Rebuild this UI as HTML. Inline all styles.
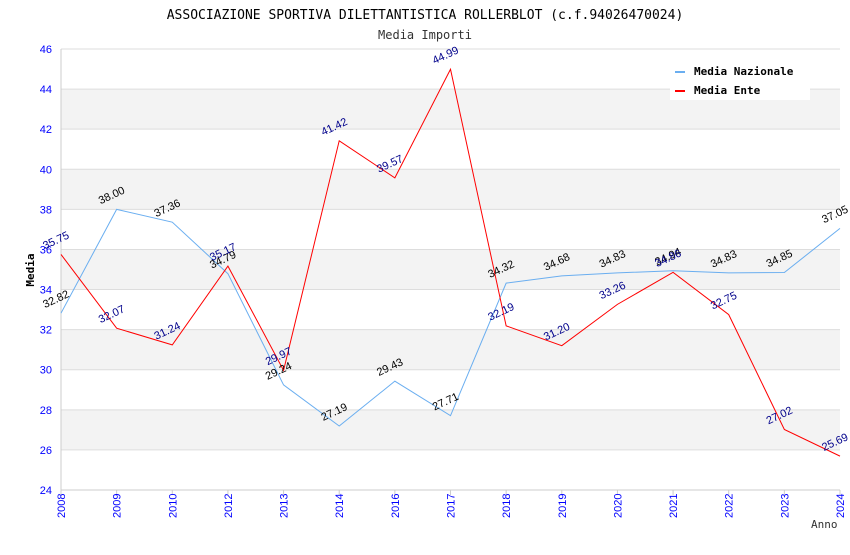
<!DOCTYPE html>
<html><head><meta charset="utf-8"><style>
body{margin:0;background:#fff;}
svg text{font-family:"DejaVu Sans Mono","Liberation Mono",monospace;}
svg text.s{font-family:"Liberation Sans",sans-serif;}
</style></head><body>
<svg id="c" width="850" height="550">
<text x="425" y="19" text-anchor="middle" font-size="13" fill="#000">ASSOCIAZIONE SPORTIVA DILETTANTISTICA ROLLERBLOT (c.f.94026470024)</text>
<text x="425" y="39" text-anchor="middle" font-size="12" fill="#333">Media Importi</text>
<g id="bands"></g><g id="grid"></g><g id="axes"></g><g id="series"></g><g id="labels"></g>
<text x="34" y="270" transform="rotate(-90 34 270)" text-anchor="middle" font-size="11" font-weight="bold">Media</text>
<text x="811" y="528" font-size="11" fill="#333">Anno</text>
<g>
<rect x="670" y="60" width="140" height="40" fill="#fff"/>
<rect x="675" y="71" width="10" height="2" fill="#6aaef0"/>
<text x="694" y="75" font-size="11" font-weight="bold">Media Nazionale</text>
<rect x="675" y="90" width="10" height="2" fill="#f00"/>
<text x="694" y="94" font-size="11" font-weight="bold">Media Ente</text>
</g>
</svg>
<script>
const years=["2008","2009","2010","2012","2013","2014","2016","2017","2018","2019","2020","2021","2022","2023","2024"];
const nazionale=[32.82,38.00,37.36,34.79,29.24,27.19,29.43,27.71,34.32,34.68,34.83,34.94,34.83,34.85,37.05];
const ente=[35.75,32.07,31.24,35.17,29.97,41.42,39.57,44.99,32.19,31.20,33.26,34.86,32.75,27.02,25.69];
const yTicks=[24,26,28,30,32,34,36,38,40,42,44,46];
const NS="http://www.w3.org/2000/svg";
const L=61,R=840,T=49,B=490,yMin=24,yMax=46;
const xS=i=>L+i*(R-L)/(years.length-1);
const yS=v=>B-(v-yMin)*(B-T)/(yMax-yMin);
function mk(p,t,a){const e=document.createElementNS(NS,t);for(const k in a)e.setAttribute(k,a[k]);document.getElementById(p).appendChild(e);return e;}
for(let v=26;v<46;v+=4){const r=mk('bands','rect',{x:L,y:yS(v+2),width:R-L,height:yS(v)-yS(v+2),fill:'#f3f3f3'});

}
yTicks.forEach(v=>{const l=mk('grid','line',{x1:L,x2:R,y1:yS(v),y2:yS(v),stroke:'#ddd'});


const t=mk('axes','text',{x:L-9,y:yS(v)+4,'text-anchor':'end','font-size':11,fill:'#00f',class:'s'});t.textContent=v;

});
mk('axes','line',{x1:L,x2:L,y1:T,y2:B,stroke:'#ccc'});
mk('axes','line',{x1:L,x2:R,y1:B,y2:B,stroke:'#ccc'});
years.forEach((y,i)=>{const x=xS(i);mk('axes','line',{x1:x,x2:x,y1:B,y2:B+5,stroke:'#ccc'});
const t=mk('axes','text',{x:x+4,y:B+28,transform:`rotate(-90 ${x+4} ${B+28})`,'font-size':11,fill:'#00f',class:'s'});t.textContent=y;

});
function series(d,col,lc,name){const p=mk('series','polyline',{points:d.map((v,i)=>xS(i)+','+yS(v)).join(' '),fill:'none',stroke:col,'stroke-width':1});


d.forEach((v,i)=>{const x=xS(i)-16,y=yS(v)-5;const t=mk('labels','text',{x:x,y:y,transform:`rotate(-25 ${x} ${y})`,'font-size':11,fill:lc,class:'s'});t.textContent=v.toFixed(2);

});}
series(nazionale,'#6aaef0','#000','line-media-nazionale');
series(ente,'#f00','#00008b','line-media-ente');
</script>
</body></html>
